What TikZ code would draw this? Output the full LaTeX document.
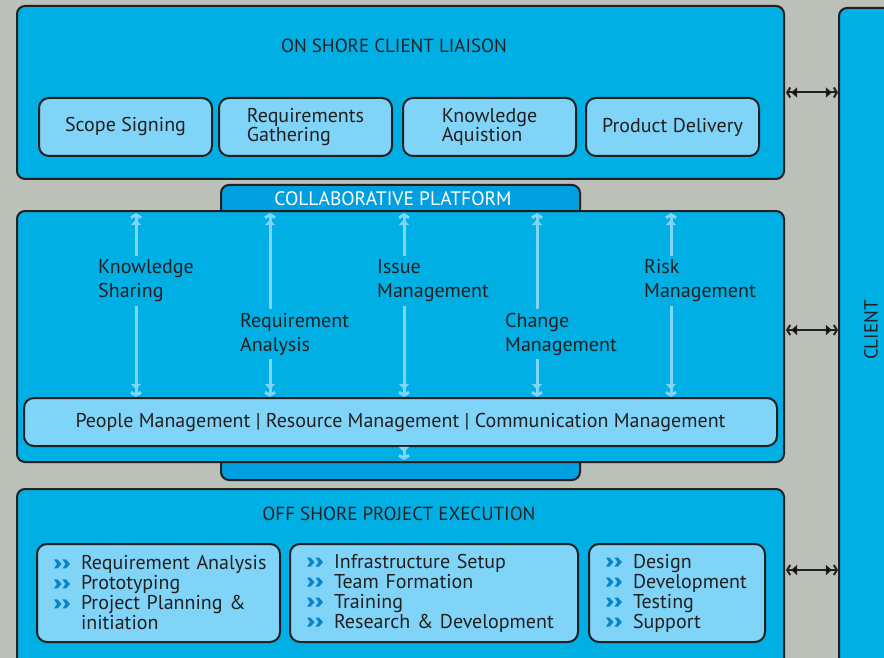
\documentclass[tikz,border=0pt]{standalone}
\usepackage{fontspec}
\setmainfont{PT Sans}
\usepackage{tikz}
\usetikzlibrary{positioning,calc,arrows.meta}

\definecolor{bggray}{HTML}{BBC0B9}
\definecolor{boxblue}{HTML}{00B0E5}
\definecolor{lightblue}{HTML}{7FD4F7}
\definecolor{tabblue}{HTML}{009FDF}
\definecolor{edge}{HTML}{231F20}
\definecolor{bullet}{HTML}{0A84C6}

% double chevron bullet
\newcommand{\bul}{\makebox[40pt][l]{\hspace{13pt}\raisebox{1.5pt}{\tikz[x=1pt,y=1pt,draw=none,
  rounded corners=0pt,line width=0.4pt]{%
  \foreach \d in {0,8.5}{\fill[bullet] (\d,0) -- (\d+3.5,0) -- (\d+7.5,4.5) -- (\d+3.5,9) -- (\d,9) -- (\d+3,4.5) -- cycle;}}}}}

\tikzset{
  bigbox/.style={draw=edge, line width=2pt, fill=boxblue, rounded corners=8pt,
    inner sep=0pt, anchor=north west},
  subbox/.style={draw=edge, line width=2pt, fill=lightblue, rounded corners=10pt,
    inner sep=0pt, anchor=north west, text=edge, align=left,
    font=\fontsize{20}{19}\selectfont},
  listbox/.style={subbox, text width=#1, align=left, inner xsep=4pt,
    font=\fontsize{20}{20}\selectfont},
  heading/.style={text=edge, font=\fontsize{19}{20}\selectfont},
  flowlbl/.style={fill=boxblue, text=edge, align=left, anchor=west,
    inner xsep=2pt, inner ysep=4pt, font=\fontsize{20}{24}\selectfont},
  twotip/.style={arrows={{Straight Barb[length=3pt,width=10pt,sep=1pt] Triangle[length=6pt,width=10pt]}-{Triangle[length=6pt,width=10pt,sep=1pt] Straight Barb[length=3pt,width=10pt]}}},
  link/.style={draw=edge, line width=2pt, twotip},
  feed/.style={draw=lightblue, line width=3pt, twotip}
}

\begin{document}
\begin{tikzpicture}[x=1pt,y=-1pt]
\clip (0,0) rectangle (884,658);
\fill[bggray] (0,0) rectangle (884,658);

% client column on the right
\node[bigbox, minimum width=80pt, minimum height=720pt] (client) at (838,7) {};
\node[heading, rotate=90] (clientlbl) at (871,330) {CLIENT};

% on shore part
\node[bigbox, minimum width=767pt, minimum height=173pt] (onshore) at (16,5) {};
\node[heading] (onshorelbl) at (394,46) {ON SHORE CLIENT LIAISON};
\node[subbox, minimum width=173pt, minimum height=58pt] (scope) at (38,97) {Scope Signing};
\node[subbox, minimum width=173pt, minimum height=58pt] (gather) at (218,97) {Requirements\\Gathering};
\node[subbox, minimum width=173pt, minimum height=58pt] (aquis) at (402,97) {Knowledge\\Aquistion};
\node[subbox, minimum width=173pt, minimum height=58pt] (deliver) at (585,97) {Product Delivery};

% collaborative platform
\node[bigbox, fill=tabblue, minimum width=359pt, minimum height=295pt] (platform) at (220,184) {};
\node[bigbox, minimum width=767pt, minimum height=251pt] (mid) at (16,210) {};
\node[text=white, font=\fontsize{19.5}{20}\selectfont] (platformlbl) at (393,199) {COLLABORATIVE PLATFORM};
\node[subbox, align=center, minimum width=753pt, minimum height=48pt,
  font=\fontsize{20}{20}\selectfont] (people) at (23,397)
  {People Management | Resource Management | Communication Management};

\foreach \name/\x in {f1/136, f2/270, f3/404, f4/537, f5/671}{
  \coordinate (\name) at (\x,212);
  \draw[feed] (\name) -- (\name |- people.north);
}
\coordinate (sink) at (404,460);
\draw[feed, arrows={-{Triangle[length=6pt,width=10pt,sep=1pt] Straight Barb[length=3pt,width=10pt]}}] (people.south -| sink) -- (sink);

\node[flowlbl] (share) at (96,281) {Knowledge\\Sharing};
\node[flowlbl] (analysis) at (238,334) {Requirement\\Analysis};
\node[flowlbl] (issue) at (375,281) {Issue\\Management};
\node[flowlbl] (change) at (503,334) {Change\\Management};
\node[flowlbl] (risk) at (642,281) {Risk\\Management};

% off shore part
\node[bigbox, minimum width=767pt, minimum height=240pt] (offshore) at (16,488) {};
\node[heading] (offshorelbl) at (399,514) {OFF SHORE PROJECT EXECUTION};
\node[listbox=235pt, minimum height=98pt] (plan) at (36,543)
  {\bul Requirement Analysis\\ \bul Prototyping\\ \bul Project Planning \&\\ \hphantom{\bul}initiation};
\node[listbox=280pt, minimum height=98pt] (setup) at (289,543)
  {\bul Infrastructure Setup\\ \bul Team Formation\\ \bul Training\\ \bul Research \& Development};
\node[listbox=168pt, minimum height=98pt] (build) at (588,543)
  {\bul Design\\ \bul Development\\ \bul Testing\\ \bul Support};

% links to the client
\coordinate (offlink) at ($(offshore.north east)+(0,82)$);
\draw[link] (onshore.east) -- (onshore.east -| client.west);
\draw[link] ([yshift=6.5pt]mid.east) -- ([yshift=6.5pt]mid.east -| client.west);
\draw[link] (offlink) -- (offlink -| client.west);
\end{tikzpicture}
\end{document}
